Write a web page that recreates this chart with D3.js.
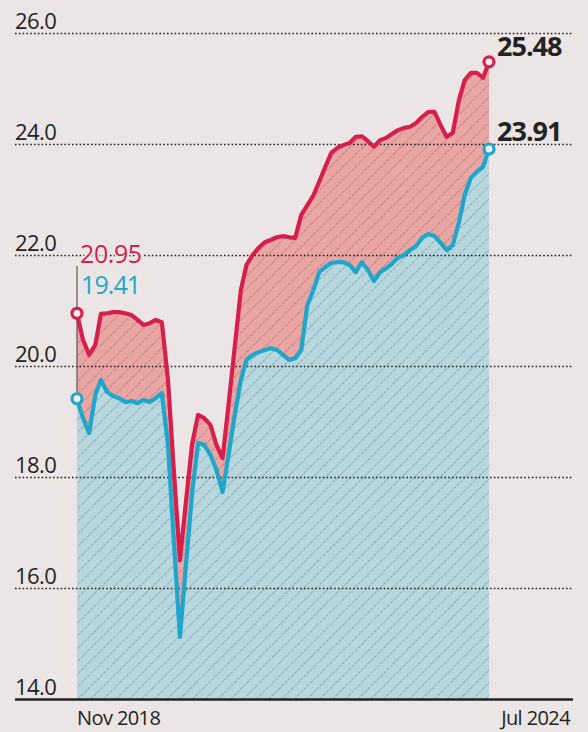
<!DOCTYPE html>
<html>
<head>
<meta charset="utf-8">
<script src="https://cdn.jsdelivr.net/npm/d3@7"></script>
<style>
  html, body { margin: 0; padding: 0; background: #ebe5e5; }
  svg { display: block; }
  text { font-family: "Open Sans", "DejaVu Sans", sans-serif; }
</style>
</head>
<body>
<svg id="chart" width="588" height="732"></svg>
<script>
// ---- data (monthly, Nov 2018 .. Jul 2024) ----
const startMonth = "2018-11";
const endMonth = "2024-07";
const redValues = [
  20.95, 20.47, 20.20, 20.38, 20.94, 20.95, 20.97, 20.97, 20.95, 20.92,
  20.83, 20.74, 20.77, 20.83, 20.79, 19.75, 18.13, 16.50, 17.55, 18.59,
  19.12, 19.06, 18.94, 18.58, 18.34, 19.30, 20.34, 21.37, 21.82, 22.00,
  22.13, 22.23, 22.27, 22.32, 22.34, 22.32, 22.31, 22.72, 22.90, 23.08,
  23.32, 23.59, 23.84, 23.93, 23.98, 24.02, 24.13, 24.14, 24.05, 23.95,
  24.07, 24.11, 24.18, 24.25, 24.29, 24.31, 24.38, 24.49, 24.58, 24.58,
  24.34, 24.13, 24.20, 24.79, 25.15, 25.28, 25.28, 25.19, 25.48
];
const blueValues = [
  19.41, 19.06, 18.79, 19.48, 19.75, 19.53, 19.46, 19.42, 19.35, 19.37,
  19.33, 19.39, 19.35, 19.42, 19.51, 18.58, 16.86, 15.12, 16.41, 17.71,
  18.61, 18.58, 18.40, 18.13, 17.73, 18.40, 19.12, 19.75, 20.11, 20.20,
  20.25, 20.29, 20.32, 20.29, 20.20, 20.11, 20.14, 20.29, 21.10, 21.37,
  21.69, 21.78, 21.86, 21.87, 21.87, 21.82, 21.69, 21.87, 21.73, 21.53,
  21.69, 21.76, 21.84, 21.95, 22.00, 22.09, 22.16, 22.31, 22.38, 22.34,
  22.22, 22.09, 22.18, 22.59, 23.08, 23.39, 23.50, 23.59, 23.91
];
const yTicks = [14, 16, 18, 20, 22, 24, 26];
const xLabels = ["Nov 2018", "Jul 2024"];
const startLabels = ["20.95", "19.41"];
const endLabels = ["25.48", "23.91"];

// ---- build ----
const parse = d3.utcParse("%Y-%m");
const months = d3.utcMonth.range(parse(startMonth), d3.utcMonth.offset(parse(endMonth), 1));
const data = months.map((d, i) => ({ date: d, red: redValues[i], blue: blueValues[i] }));

const svg = d3.select("#chart");
const left = 15, right = 573;
const x = d3.scaleUtc().domain([months[0], months[months.length - 1]]).range([77, 489]);
const y = d3.scaleLinear().domain([14, 26]).range([699, 33]);

const RED = "#d51f4c", BLUE = "#1ea6cb", INK = "#232323", PAPER = "#ebe5e5";

// hatch pattern
const defs = svg.append("defs");
const pat = defs.append("pattern").attr("id", "hatch").attr("patternUnits", "userSpaceOnUse")
  .attr("width", 9).attr("height", 9).attr("patternTransform", "rotate(45)");
pat.append("line").attr("x1", 0).attr("y1", 0).attr("x2", 0).attr("y2", 9)
  .attr("stroke", "rgba(45,50,60,0.6)").attr("stroke-width", 0.9).attr("stroke-dasharray", "3,1");

// areas
const areaBlue = d3.area().x(d => x(d.date)).y0(y(14)).y1(d => y(d.blue));
const areaGap = d3.area().x(d => x(d.date)).y0(d => y(d.blue)).y1(d => y(d.red));
svg.append("path").datum(data).attr("d", areaBlue).attr("fill", "#b6d7de");
svg.append("path").datum(data).attr("d", areaGap).attr("fill", "#eba6a4");
svg.append("path").datum(data).attr("d", d3.area().x(d => x(d.date)).y0(y(14)).y1(d => y(d.red)))
  .attr("fill", "url(#hatch)");

// grid / axis
const axis = d3.axisLeft(y).tickValues(yTicks).tickFormat(d3.format(".1f")).tickSize(-(right - left));
const gAxis = svg.append("g").attr("transform", `translate(${left},0)`).call(axis);
gAxis.select(".domain").remove();
gAxis.selectAll(".tick line")
  .attr("stroke", INK)
  .attr("stroke-dasharray", d => d === 14 ? null : "1.6,2.2")
  .attr("stroke-width", d => d === 14 ? 2.6 : 1.6);
gAxis.selectAll(".tick text")
  .attr("x", 0).attr("dy", null).attr("y", -5)
  .attr("text-anchor", "start")
  .attr("fill", INK).attr("font-size", 22).attr("letter-spacing", -0.6);

// lines
const lineRed = d3.line().x(d => x(d.date)).y(d => y(d.red));
const lineBlue = d3.line().x(d => x(d.date)).y(d => y(d.blue));
svg.append("path").datum(data).attr("d", lineBlue).attr("fill", "none")
  .attr("stroke", BLUE).attr("stroke-width", 4.2).attr("stroke-linejoin", "round");
svg.append("path").datum(data).attr("d", lineRed).attr("fill", "none")
  .attr("stroke", RED).attr("stroke-width", 4.2).attr("stroke-linejoin", "round");

// start leader line
const first = data[0], last = data[data.length - 1];
svg.append("line").attr("x1", x(first.date)).attr("x2", x(first.date))
  .attr("y1", 266).attr("y2", y(first.blue))
  .attr("stroke", "#555").attr("stroke-width", 1.2);

// circles
[[first, "red", RED], [first, "blue", BLUE], [last, "red", RED], [last, "blue", BLUE]].forEach(([d, k, c]) => {
  svg.append("circle").attr("cx", x(d.date)).attr("cy", y(d[k])).attr("r", 5)
    .attr("fill", "#f4efef").attr("stroke", c).attr("stroke-width", 3.2);
});

// start labels
svg.append("text").attr("x", 80).attr("y", 263).attr("fill", RED)
  .attr("font-size", 25).attr("letter-spacing", -0.4)
  .attr("stroke", PAPER).attr("stroke-width", 4).attr("paint-order", "stroke")
  .text(startLabels[0]);
svg.append("text").attr("x", 81).attr("y", 294).attr("fill", BLUE)
  .attr("font-size", 25).attr("letter-spacing", -0.9).text(startLabels[1]);

// end labels
[[endLabels[0], 56], [endLabels[1], 141]].forEach(([t, yy]) => {
  svg.append("text").attr("x", 497).attr("y", yy).attr("fill", INK)
    .attr("font-size", 27).attr("font-weight", 700).attr("letter-spacing", -1)
    .attr("stroke", PAPER).attr("stroke-width", 4).attr("paint-order", "stroke")
    .text(t);
});

// x labels
svg.append("text").attr("x", 77).attr("y", 725).attr("fill", INK)
  .attr("font-size", 20).attr("letter-spacing", -0.6).text(xLabels[0]);
svg.append("text").attr("x", 570).attr("y", 725).attr("fill", INK)
  .attr("text-anchor", "end").attr("font-size", 20).attr("letter-spacing", -0.6).text(xLabels[1]);
</script>
</body>
</html>
